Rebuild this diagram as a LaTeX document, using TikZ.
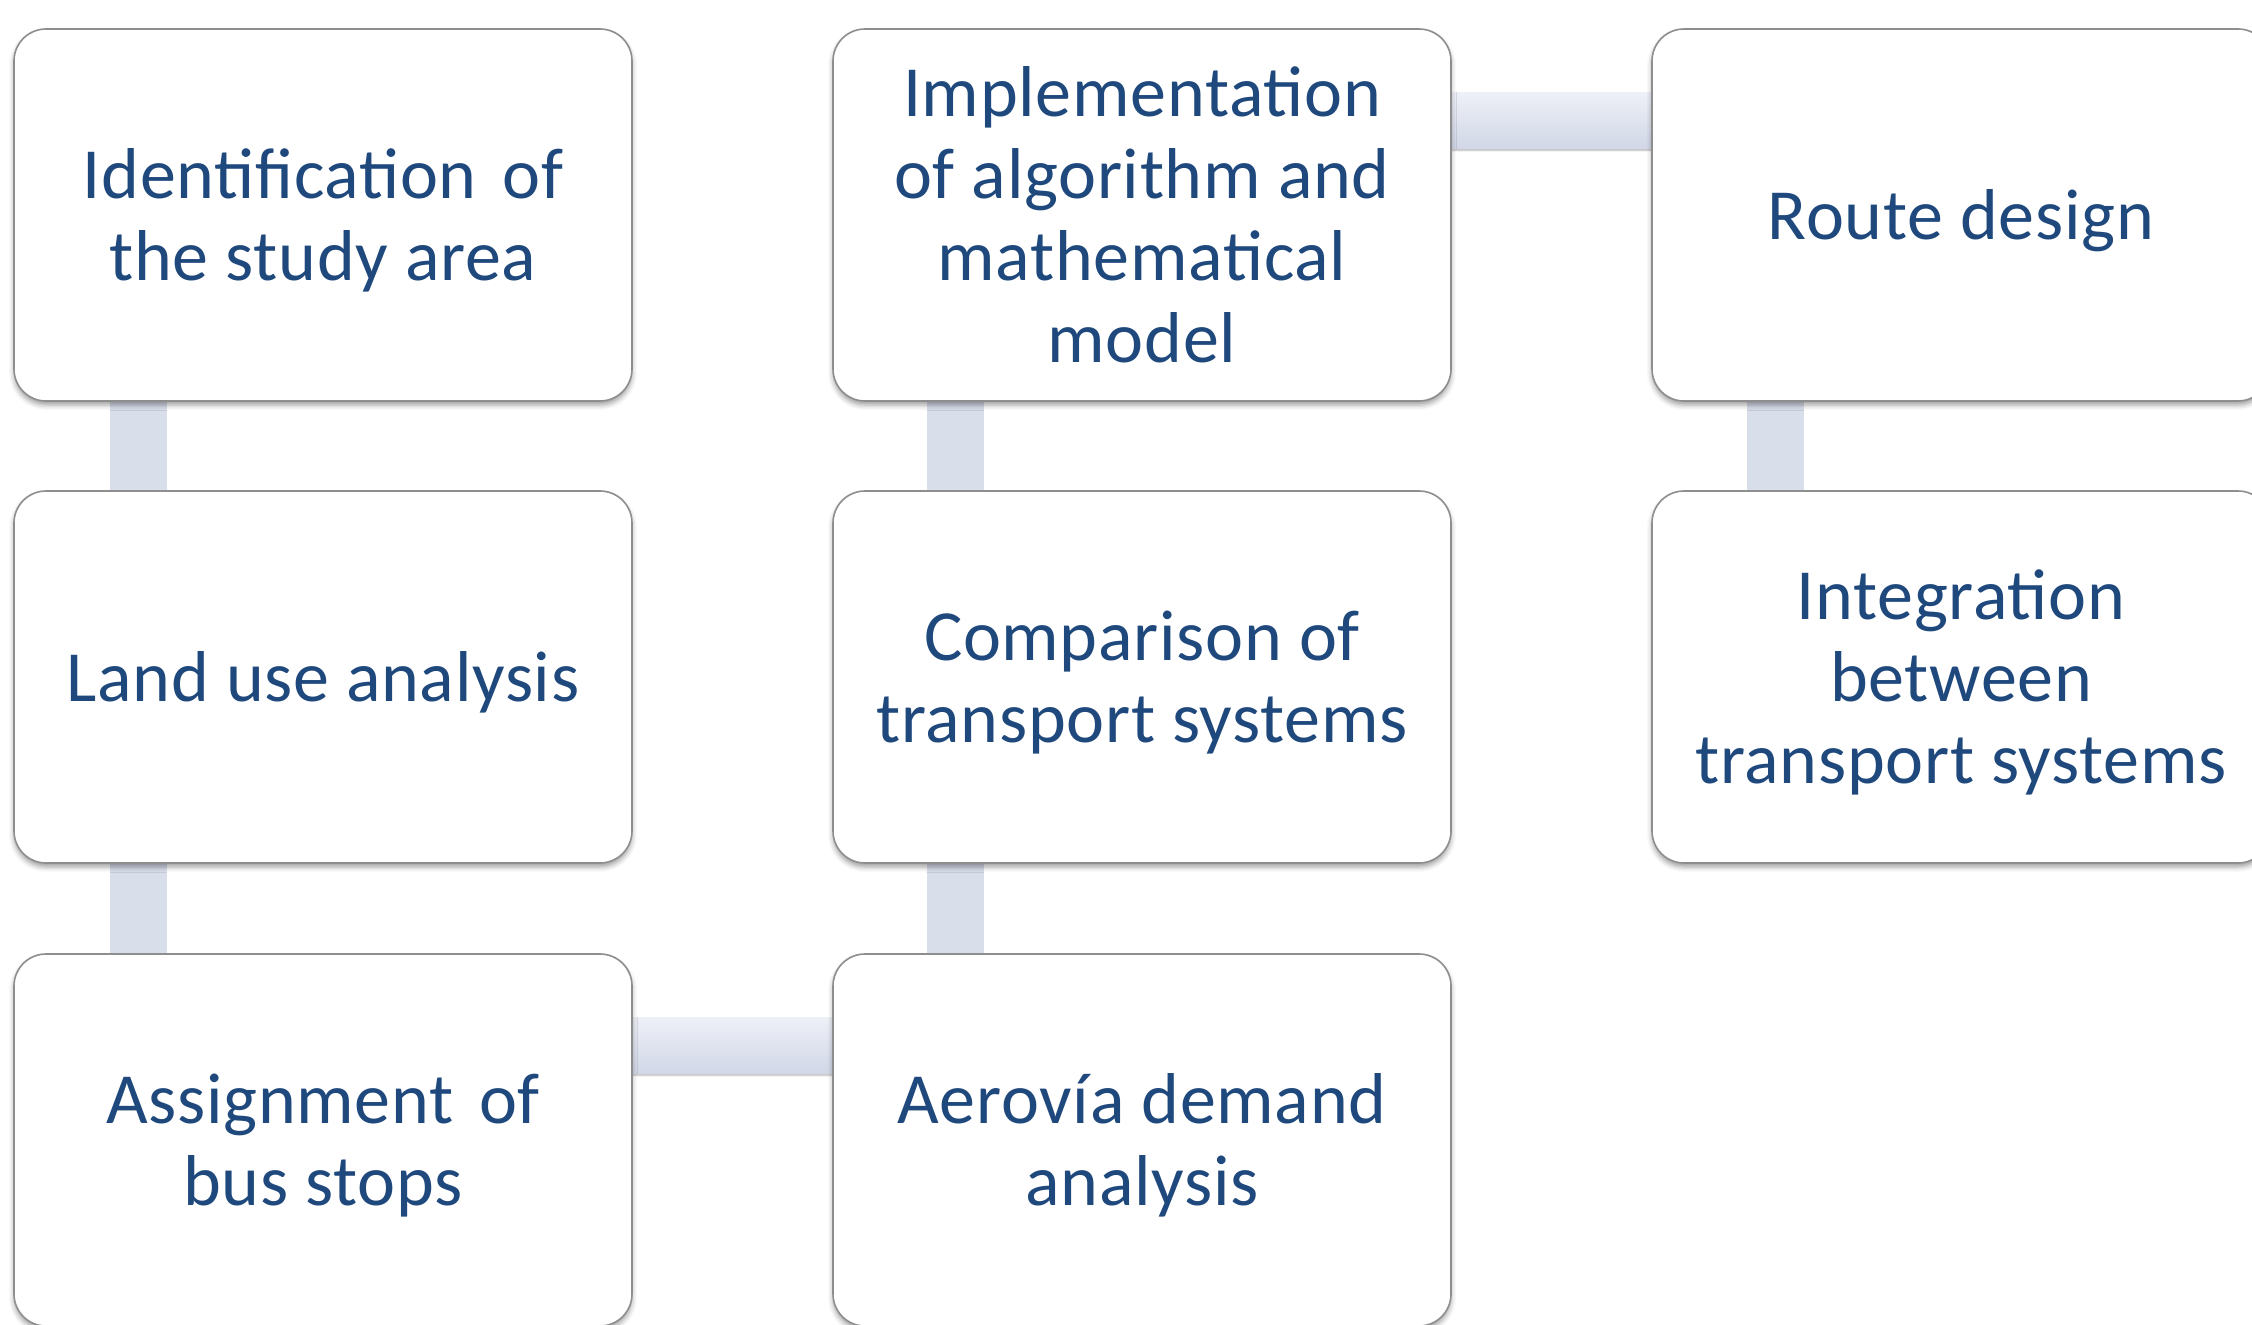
\documentclass[tikz,border=0pt]{standalone}
\usepackage{fontspec}
\setmainfont{Carlito}[LetterSpace=1.0]
\usetikzlibrary{shadows.blur,backgrounds}
\definecolor{txtblue}{HTML}{1F497D}
\definecolor{boxline}{HTML}{8E8E8E}
\definecolor{barlight}{HTML}{EEF0F7}
\definecolor{bardark}{HTML}{D1D7E7}
\definecolor{barflat}{HTML}{D9DEEB}
% fixed height for the first line of a box
\newcommand\firstline{\rule{0pt}{68pt}}
\begin{document}
\begin{tikzpicture}[x=1pt,y=-1pt,
  stepbox/.style={draw=boxline, line width=1.6pt, fill=white, rounded corners=32pt,
    minimum width=618pt, minimum height=372pt, inner sep=0pt, align=center,
    text=txtblue, font=\fontsize{72}{82}\selectfont,
    execute at begin node={\rule{0pt}{68pt}},
    execute at end node={\rule[-20pt]{0pt}{20pt}},
    blur shadow={shadow xshift=0pt, shadow yshift=-4pt, shadow blur radius=5pt, shadow opacity=38}},
  vbar/.style={fill=barflat},
  hbar/.style={top color=barlight, bottom color=bardark,
    blur shadow={shadow xshift=0pt, shadow yshift=-2pt, shadow blur radius=2pt, shadow opacity=30}}
]
\useasboundingbox (0,0) rectangle (2252,1325);
\clip (0,0) rectangle (2252,1325);

% process steps, three columns
\node[stepbox] (s1) at (323,215)  {\firstline Identification\hspace{0.12em} of\\the study area};
\node[stepbox] (s2) at (323,677)  {Land use analysis};
\node[stepbox] (s3) at (323,1140) {\firstline Assignment\hspace{0.12em} of\\bus stops};
\node[stepbox] (s4) at (1142,1140) {\firstline Aerovía demand\\analysis};
\node[stepbox] (s5) at (1142,677) {\firstline Comparison of\\transport systems};
\node[stepbox] (s6) at (1142,215) {\firstline Implementation\\of algorithm and\\mathematical\\model};
\node[stepbox] (s7) at (1961,215) {Route design};
\node[stepbox] (s8) at (1961,677) {\firstline Integration\\between\\transport systems};

% connecting bars, behind the boxes
\begin{scope}[on background layer]
\fill[vbar] ([xshift=97pt]s1.south west) rectangle ([xshift=154pt]s2.north west);
\fill[vbar] ([xshift=97pt]s2.south west) rectangle ([xshift=154pt]s3.north west);
\path[hbar] ([yshift=-64pt]s3.north east) rectangle ([yshift=-120pt]s4.north west);
\fill[vbar] ([xshift=95pt]s4.north west) rectangle ([xshift=152pt]s5.south west);
\fill[vbar] ([xshift=95pt]s5.north west) rectangle ([xshift=152pt]s6.south west);
\path[hbar] ([yshift=-64pt]s6.north east) rectangle ([yshift=-120pt]s7.north west);
\fill[vbar] ([xshift=96pt]s7.south west) rectangle ([xshift=153pt]s8.north west);
\end{scope}
\end{tikzpicture}
\end{document}
